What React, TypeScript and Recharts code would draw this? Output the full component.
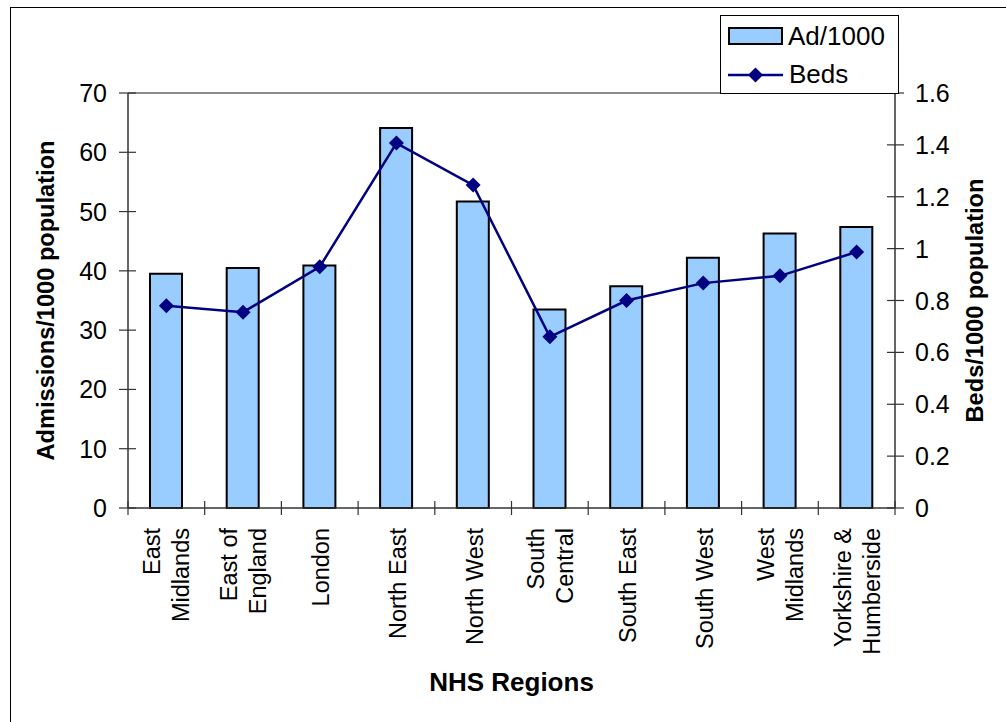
import {Bar, ComposedChart, Line, ReferenceLine, XAxis, YAxis} from 'recharts';

const regions = [
  'East Midlands',
  'East of England',
  'London',
  'North East',
  'North West',
  'South Central',
  'South East',
  'South West',
  'West Midlands',
  'Yorkshire & Humberside',
];

// how each region name is broken over the rotated tick label
const regionLabels = [
  ['East', 'Midlands'],
  ['East of', 'England'],
  ['London'],
  ['North East'],
  ['North West'],
  ['South', 'Central'],
  ['South East'],
  ['South West'],
  ['West', 'Midlands'],
  ['Yorkshire &', 'Humberside'],
];

const admissionsPer1000 = [39.5, 40.5, 40.9, 64.1, 51.7, 33.5, 37.4, 42.2, 46.3, 47.4];
const bedsPer1000 = [0.78, 0.755, 0.93, 1.407, 1.245, 0.66, 0.8, 0.867, 0.895, 0.987];

const admissionTicks = [0, 10, 20, 30, 40, 50, 60, 70];
const bedTicks = [0, 0.2, 0.4, 0.6, 0.8, 1, 1.2, 1.4, 1.6];

const chartData = regions.map((region, i) => ({
  region,
  admissions: admissionsPer1000[i],
  beds: bedsPer1000[i],
}));

const WIDTH = 1006;
const HEIGHT = 722;
const PLOT_LEFT = 128;
const PLOT_RIGHT = 895;
const PLOT_TOP = 93;
const PLOT_BOTTOM = 508;
const BAND = (PLOT_RIGHT - PLOT_LEFT) / regions.length;

const FONT = '"Liberation Sans", Arial, sans-serif';
const AXIS_COLOR = '#333';
const BAR_FILL = '#99CCFF';
const LINE_COLOR = '#000080';

function diamondPath(cx: number, cy: number, r: number) {
  return `M${cx},${cy - r}L${cx + r},${cy}L${cx},${cy + r}L${cx - r},${cy}Z`;
}

function RegionTick(props: any) {
  const {x, payload} = props;
  const i = regions.indexOf(payload.value);
  const lines = regionLabels[i] ?? [payload.value];
  const offsets = lines.length === 1 ? [9.5] : [-6, 23];
  const half = BAND / 2;
  return (
    <g>
      <line x1={x - half} x2={x - half} y1={PLOT_BOTTOM - 7} y2={PLOT_BOTTOM + 7} stroke={AXIS_COLOR} strokeWidth={1.2} />
      {i === regions.length - 1 && (
        <line x1={x + half} x2={x + half} y1={PLOT_BOTTOM - 7} y2={PLOT_BOTTOM + 7} stroke={AXIS_COLOR} strokeWidth={1.2} />
      )}
      <text
        transform={`translate(${x},528) rotate(-90)`}
        textAnchor="end"
        fontFamily={FONT}
        fontSize={23.5}
        fill="#000"
      >
        {lines.map((line, k) => (
          <tspan key={k} x={0} y={offsets[k]}>
            {line}
          </tspan>
        ))}
      </text>
    </g>
  );
}

function AdmissionTick(props: any) {
  const {y, payload} = props;
  return (
    <g>
      <line x1={PLOT_LEFT - 9} x2={PLOT_LEFT + 8} y1={y} y2={y} stroke={AXIS_COLOR} strokeWidth={1.2} />
      <text x={PLOT_LEFT - 21} y={y} dy="0.36em" textAnchor="end" fontFamily={FONT} fontSize={25} fill="#000">
        {payload.value}
      </text>
    </g>
  );
}

function BedTick(props: any) {
  const {y, payload} = props;
  return (
    <g>
      <line x1={PLOT_RIGHT - 8} x2={PLOT_RIGHT + 9} y1={y} y2={y} stroke={AXIS_COLOR} strokeWidth={1.2} />
      <text x={PLOT_RIGHT + 20} y={y} dy="0.36em" textAnchor="start" fontFamily={FONT} fontSize={25} fill="#000">
        {payload.value}
      </text>
    </g>
  );
}

function BedDot(props: any) {
  const {cx, cy, index} = props;
  return <path key={`dot-${index}`} d={diamondPath(cx, cy, 7.5)} fill={LINE_COLOR} stroke="none" />;
}

function verticalTitle(x: number, y: number, text: string) {
  return () => (
    <text
      transform={`translate(${x},${y}) rotate(-90)`}
      textAnchor="middle"
      fontFamily={FONT}
      fontWeight="bold"
      fontSize={23.6}
      fill="#000"
    >
      {text}
    </text>
  );
}

const xTitle = () => (
  <text
    x={(PLOT_LEFT + PLOT_RIGHT) / 2}
    y={691}
    textAnchor="middle"
    fontFamily={FONT}
    fontWeight="bold"
    fontSize={26}
    fill="#000"
  >
    NHS Regions
  </text>
);

function LegendBox() {
  return (
    <svg
      width={181}
      height={81}
      style={{position: 'absolute', left: 720, top: 15}}
    >
      <rect x={0.5} y={0.5} width={178} height={78} fill="#fff" stroke="#000" strokeWidth={1} />
      <rect x={9} y={13} width={53} height={16} fill={BAR_FILL} stroke="#000" strokeWidth={2} />
      <text x={68} y={30} fontFamily={FONT} fontSize={26} fill="#000">
        Ad/1000
      </text>
      <line x1={8} x2={63} y1={60} y2={60} stroke={LINE_COLOR} strokeWidth={2.5} />
      <path d={diamondPath(35.5, 60, 7.5)} fill={LINE_COLOR} />
      <text x={69} y={68} fontFamily={FONT} fontSize={26} fill="#000">
        Beds
      </text>
    </svg>
  );
}

export default function App() {
  return (
    <div
      style={{
        position: 'absolute',
        left: 0,
        top: 0,
        width: WIDTH,
        height: HEIGHT,
        overflow: 'hidden',
        background: '#fff',
      }}
    >
      <div
        style={{
          position: 'absolute',
          left: 10,
          top: 7,
          width: WIDTH,
          height: HEIGHT,
          border: '1px solid #000',
        }}
      />
      <div style={{position: 'absolute', left: 0, top: 0}}>
        <ComposedChart
          width={WIDTH}
          height={HEIGHT}
          data={chartData}
          margin={{top: PLOT_TOP, right: 0, bottom: 0, left: 0}}
        >
          <XAxis
            dataKey="region"
            height={HEIGHT - PLOT_BOTTOM}
            interval={0}
            tickLine={false}
            axisLine={{stroke: AXIS_COLOR, strokeWidth: 1.5}}
            tick={RegionTick}
            label={xTitle}
          />
          <YAxis
            yAxisId="ad"
            orientation="left"
            width={PLOT_LEFT}
            domain={[0, 70]}
            ticks={admissionTicks}
            interval={0}
            tickLine={false}
            axisLine={{stroke: AXIS_COLOR, strokeWidth: 1.5}}
            tick={AdmissionTick}
            label={verticalTitle(54, (PLOT_TOP + PLOT_BOTTOM) / 2, 'Admissions/1000 population')}
          />
          <YAxis
            yAxisId="beds"
            orientation="right"
            width={WIDTH - PLOT_RIGHT}
            domain={[0, 1.6]}
            ticks={bedTicks}
            interval={0}
            tickLine={false}
            axisLine={{stroke: AXIS_COLOR, strokeWidth: 1.5}}
            tick={BedTick}
            label={verticalTitle(983, (PLOT_TOP + PLOT_BOTTOM) / 2, 'Beds/1000 population')}
          />
          <ReferenceLine yAxisId="ad" y={70} stroke="#8c8c8c" strokeWidth={2} />
          <Bar
            yAxisId="ad"
            dataKey="admissions"
            barSize={32}
            fill={BAR_FILL}
            stroke="#000"
            strokeWidth={2}
            isAnimationActive={false}
          />
          <Line
            yAxisId="beds"
            type="linear"
            dataKey="beds"
            stroke={LINE_COLOR}
            strokeWidth={2.5}
            dot={BedDot}
            activeDot={false}
            isAnimationActive={false}
          />
        </ComposedChart>
      </div>
      <LegendBox />
    </div>
  );
}
